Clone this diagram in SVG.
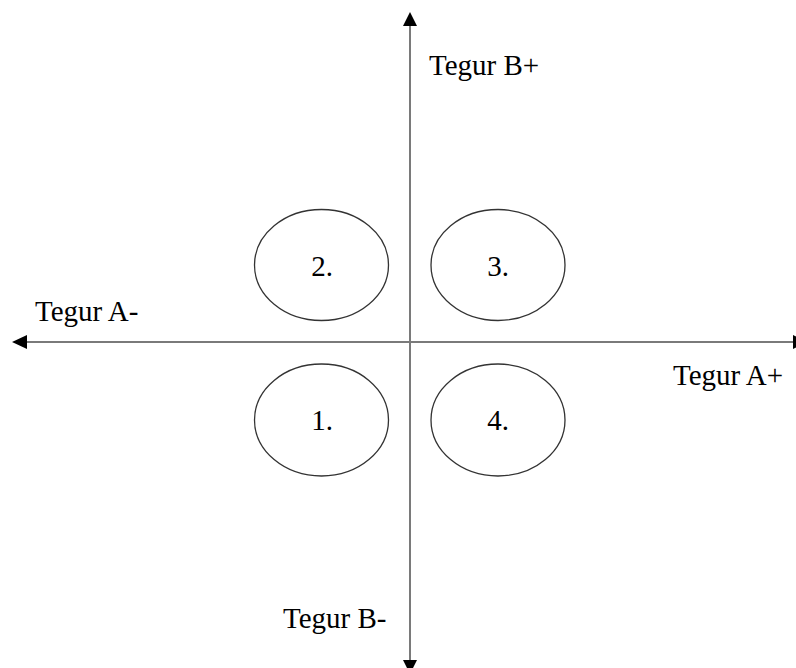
<svg xmlns="http://www.w3.org/2000/svg" width="796" height="668" viewBox="0 0 796 668">
<defs>
<style>
.axis{stroke:#7a7a7a;stroke-width:2;fill:none}
.head{fill:#000}
.node ellipse{fill:#fff;stroke:#333;stroke-width:1.3}
text{font-family:"Liberation Serif","Times New Roman",serif;font-size:29px;fill:#000}
.num{text-anchor:middle}
</style>
</defs>
<rect width="796" height="668" fill="#fff"/>
<g id="connectors">
<line class="axis" x1="410" y1="24" x2="410" y2="662"/>
<polygon class="head" points="410,12 403,26 417,26"/>
<polygon class="head" points="410,674 403,660 417,660"/>
<line class="axis" x1="26" y1="342" x2="794" y2="342"/>
<polygon class="head" points="12,342 27,335 27,349"/>
<polygon class="head" points="807,342 793,335 793,349"/>
</g>
<g id="node-2" class="node"><ellipse cx="321.5" cy="265" rx="67" ry="55.5"/><text class="num" x="322" y="276">2.</text></g>
<g id="node-3" class="node"><ellipse cx="498" cy="265" rx="67" ry="55.5"/><text class="num" x="498" y="276">3.</text></g>
<g id="node-1" class="node"><ellipse cx="321.5" cy="420" rx="67" ry="56"/><text class="num" x="322" y="430">1.</text></g>
<g id="node-4" class="node"><ellipse cx="498" cy="420" rx="67" ry="56"/><text class="num" x="498" y="430">4.</text></g>
<g id="labels">
<text x="429" y="75">Tegur B+</text>
<text x="35" y="321">Tegur A-</text>
<text x="673" y="385">Tegur A+</text>
<text x="283" y="628">Tegur B-</text>
</g>
</svg>
